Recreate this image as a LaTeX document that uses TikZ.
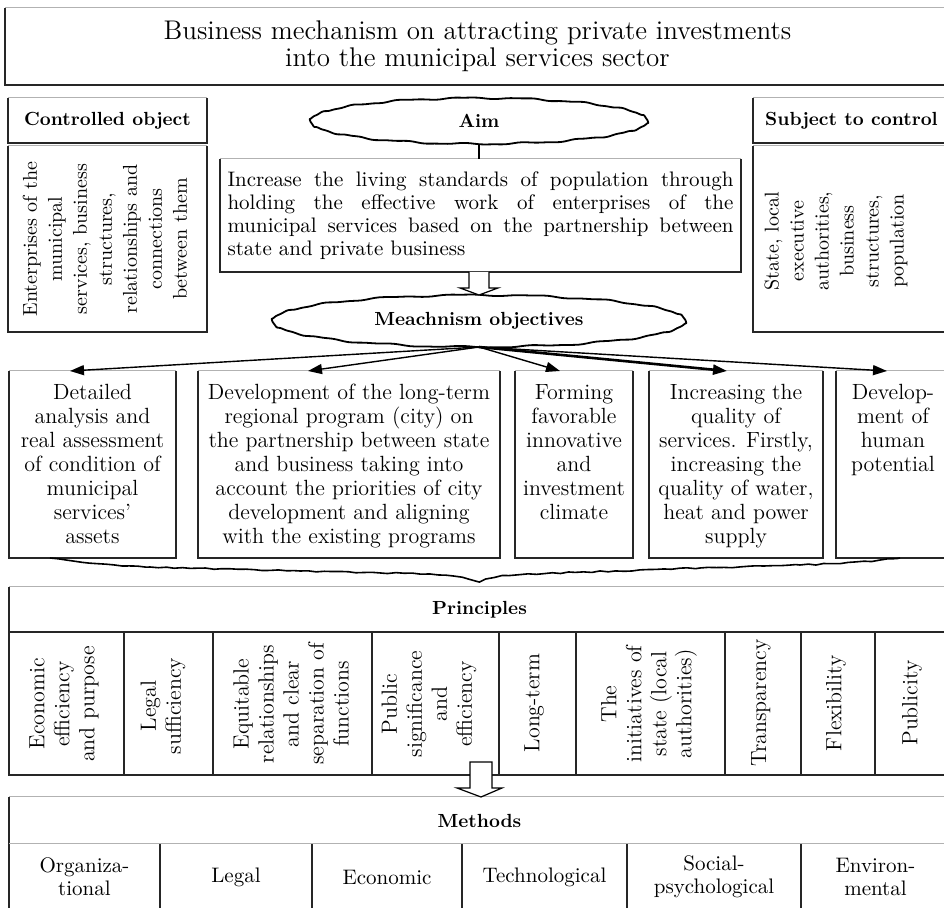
\documentclass[tikz,border=0pt]{standalone}
\usetikzlibrary{decorations.pathmorphing,arrows.meta,calc,shapes.geometric}
\newcommand\mkbox[7][]{\node[bx,minimum width={(#5-#3)*0.5pt},minimum height={(#6-#4)*0.5pt},#1] (#2) at ({(#3+#5)/2},{(#4+#6)/2}) {#7};}
\newcommand\frm[1]{\draw[topedge] (#1.north west) -- (#1.north east);
  \draw[edge] (#1.north east) -- (#1.south east) -- (#1.south west) -- (#1.north west);}
\newcommand\frmnt[1]{\draw[edge] (#1.north east) -- (#1.south east) -- (#1.south west) -- (#1.north west);}
\newcommand\wobble[4]{\draw[line width=0.9pt] plot[variable=\t,domain=0:360,samples=241] ({#1+#3*cos(\t)+0.8*sin(13*\t)},{#2+#4*sin(\t)+0.7*cos(17*\t)+0.3*sin(37*\t)}) -- cycle;}
\begin{document}
\pgfmathsetseed{11}
\begin{tikzpicture}[x=0.5pt,y=-0.5pt,
  bx/.style={rectangle,draw=none,inner sep=0pt,outer sep=0pt},
  edge/.style={line width=0.8pt,black!85},
  topedge/.style={line width=0.5pt,black!30},
  head/.style={font=\fontsize{9.5}{11}\selectfont\bfseries},
  otxt/.style={font=\fontsize{11}{12}\selectfont,align=center,inner sep=0pt,anchor=north},
  ptxt/.style={font=\fontsize{11}{12.5}\selectfont,align=center,inner sep=0pt,rotate=90},
  mtxt/.style={font=\fontsize{10.5}{11.5}\selectfont,align=center,inner sep=0pt},
  oval/.style={ellipse,inner sep=0pt,outer sep=0pt},
  arr/.style={line width=0.7pt,-{Triangle[length=7pt,width=5pt]}},
  hollow/.style={draw,line width=0.6pt,fill=white},
  brace/.style={line width=0.8pt,decorate,decoration={random steps,segment length=4pt,amplitude=0.35pt}},
]
\useasboundingbox (0,0) rectangle (944,908);
\clip (0,0) rectangle (944,908);
\fill[white] (0,0) rectangle (944,908);

% title
\mkbox[font=\fontsize{13.5}{13.5}\selectfont,align=center]{title}{5}{8}{950}{85}{Business mechanism on attracting private investments\\into the municipal services sector}
\frm{title}

% controlled object
\mkbox[head]{ctrlhead}{8}{98}{207}{143}{Controlled object}
\frm{ctrlhead}
\mkbox{ctrlbody}{8}{146}{207}{332}{}
\frm{ctrlbody}
\node[ptxt,font=\fontsize{10}{12.5}\selectfont] (ctrltext) at (105,239) {Enterprises of the\\municipal\\services, business\\structures,\\relationships and\\connections\\between them};

% subject to control
\mkbox[head]{subjhead}{753}{98}{950}{143}{Subject to control}
\frm{subjhead}
\mkbox{subjbody}{753}{146}{950}{332}{}
\frm{subjbody}
\node[ptxt,font=\fontsize{10}{12.5}\selectfont] (subjtext) at (836,241) {State, local\\executive\\authorities,\\business\\structures,\\population};

% aim
\node[oval,head,minimum width=169pt,minimum height=23pt] (aim) at (479,121) {Aim};
\wobble{479}{121}{169}{23}
\mkbox[font=\fontsize{10.5}{11.5}\selectfont,text width=253pt,align=justify]{aimbox}{220}{159}{741}{272}{Increase the living standards of population through\linebreak holding the effective work of enterprises of the\linebreak municipal services based on the partnership between\linebreak state and private business}
\frm{aimbox}
\draw[line width=0.8pt] (aim.south) -- (aim.south |- aimbox.north);

% mechanism objectives
\node[oval,head,minimum width=207pt,minimum height=26pt] (mobj) at (479,321) {Meachnism objectives};
\wobble{479}{321}{207}{26}
\coordinate (h1) at (aim.south |- aimbox.south);
\draw[hollow] ($(h1)+(-10,0)$) -- ++(0,16) -- ++(-9,0) -- ($(h1)+(0,23)$) -- ($(h1)+(19,16)$) -- ++(-9,0) -- ($(h1)+(10,0)$);

% objective boxes
\mkbox{obj1}{9}{371}{176}{558}{}
\mkbox{obj2}{198}{371}{500}{558}{}
\mkbox{obj3}{515}{371}{633}{558}{}
\mkbox{obj4}{649}{371}{823}{558}{}
\mkbox{obj5}{836}{371}{950}{558}{}
\frm{obj1}\frm{obj2}\frm{obj3}\frm{obj4}\frm{obj5}
\node[otxt] (o1t) at ($(obj1.north)+(0,13)$) {Detailed\\analysis and\\real assessment\\of condition of\\municipal\\services'\\assets};
\node[otxt] (o2t) at ($(obj2.north)+(0,13)$) {Development of the long-term\\regional program (city) on\\the partnership between state\\and business taking into\\account the priorities of city\\development and aligning\\with the existing programs};
\node[otxt] (o3t) at ($(obj3.north)+(0,13)$) {Forming\\favorable\\innovative\\and\\investment\\climate};
\node[otxt] (o4t) at ($(obj4.north)+(0,13)$) {Increasing the\\quality of\\services. Firstly,\\increasing the\\quality of water,\\heat and power\\supply};
\node[otxt] (o5t) at ($(obj5.north)+(0,13)$) {Develop-\\ment of\\human\\potential};

\coordinate (t1) at ($(obj1.north west)+(61,0)$);
\coordinate (t2) at ($(obj2.north west)+(110,0)$);
\coordinate (t3) at ($(obj3.north west)+(45,0)$);
\coordinate (t4) at ($(obj4.north west)+(78,0)$);
\coordinate (t5) at ($(obj5.north west)+(51,0)$);
\draw[arr] (mobj.south) -- (t1);
\draw[arr] (mobj.south) -- (t2);
\draw[arr] (mobj.south) -- (t3);
\draw[arr,line width=1.3pt] (mobj.south) -- (t4);
\draw[arr] (mobj.south) -- (t5);

% brace under the objectives
\coordinate (bs) at ($(obj1.south west)+(41,0)$);
\coordinate (be) at ($(obj5.south west)+(64,0)$);
\coordinate (btip) at (479,583);
\draw[brace] (bs) .. controls (80,561) and (100,566) .. (150,567) -- (300,571) -- (430,574)
  .. controls (455,575) and (470,578) .. (btip) .. controls (488,578) and (502,575) .. (528,574)
  -- (700,568) -- (800,565) .. controls (850,563) and (875,561) .. (be);

% principles
\mkbox[head]{prhead}{9}{587}{950}{632}{Principles}
\frm{prhead}
\mkbox{p1}{9}{632}{124}{775}{}
\mkbox{p2}{124}{632}{213}{775}{}
\mkbox{p3}{213}{632}{372}{775}{}
\mkbox{p4}{372}{632}{499}{775}{}
\mkbox{p5}{499}{632}{576}{775}{}
\mkbox{p6}{576}{632}{725}{775}{}
\mkbox{p7}{725}{632}{801}{775}{}
\mkbox{p8}{801}{632}{875}{775}{}
\mkbox{p9}{875}{632}{950}{775}{}
\frmnt{p1}\frmnt{p2}\frmnt{p3}\frmnt{p4}\frmnt{p5}\frmnt{p6}\frmnt{p7}\frmnt{p8}\frmnt{p9}
\node[ptxt] (p1t) at (64,704) {Economic\\efficiency\\and purpose};
\node[ptxt] (p2t) at (163,706) {Legal\\sufficiency};
\node[ptxt] (p3t) at (291,704) {Equitable\\relationships\\and clear\\separation of\\functions};
\node[ptxt] (p4t) at (429,704) {Public\\significance\\and\\efficiency};
\node[ptxt] (p5t) at (534,703) {Long-term};
\node[ptxt] (p6t) at (649,704) {The\\initiatives of\\state (local\\authorities)};
\node[ptxt] (p7t) at (761,703) {Transparency};
\node[ptxt] (p8t) at (836,703) {Flexibility};
\node[ptxt] (p9t) at (912,703) {Publicity};

% methods
\mkbox[head]{mhead}{9}{797}{950}{844}{Methods}
\draw[topedge] (mhead.north west) -- (mhead.north east);
\draw[edge] (mhead.north west) -- (mhead.south west);
\mkbox[mtxt]{m1}{9}{844}{160}{910}{Organiza-\\tional}
\mkbox[mtxt]{m2}{160}{844}{312}{910}{Legal}
\mkbox[mtxt]{m3}{312}{844}{462}{910}{Economic}
\mkbox[mtxt]{m4}{462}{844}{627}{910}{Technological}
\mkbox[mtxt]{m5}{627}{844}{801}{910}{Social-\\psychological}
\mkbox[mtxt]{m6}{801}{844}{950}{910}{Environ-\\mental}
\frm{m1}\frm{m2}\frm{m3}\frm{m4}\frm{m5}\frm{m6}

\coordinate (h2) at ($(p4.south east)+(-18,0)$);
\draw[hollow] ($(h2)+(-11,-13)$) -- ++(0,26) -- ++(-13,0) -- ($(h2)+(0,22)$) -- ($(h2)+(21,13)$) -- ++(-10,0) -- ($(h2)+(11,-13)$) -- cycle;
\end{tikzpicture}
\end{document}
